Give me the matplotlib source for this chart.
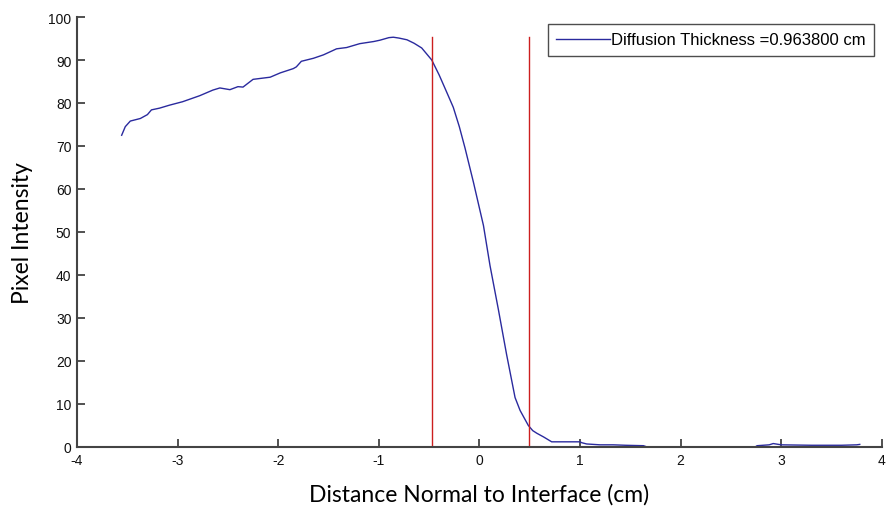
import numpy as np
import matplotlib
matplotlib.use('Agg')
import matplotlib.pyplot as plt

# intensity profile across the interface
dist = [-3.556, -3.52, -3.47, -3.37, -3.30, -3.26, -3.18, -3.08, -2.95, -2.78,
        -2.65, -2.58, -2.48, -2.40, -2.35, -2.25, -2.08, -1.98, -1.85, -1.82,
        -1.77, -1.65, -1.55, -1.42, -1.32, -1.19, -1.05, -0.99, -0.90, -0.856,
        -0.80, -0.72, -0.65, -0.574, -0.474, -0.40, -0.325, -0.26, -0.20, -0.143,
        -0.06, 0.04, 0.105, 0.188, 0.27, 0.354, 0.404, 0.486, 0.53, 0.57,
        0.64, 0.718, 0.85, 1.0, 1.016, 1.066, 1.2, 1.33, 1.45, 1.63,
        1.66, 2.0, 2.5, 2.74, 2.76, 2.88, 2.92, 3.0, 3.3, 3.6,
        3.75, 3.78]
intensity = [72.5, 74.5, 75.8, 76.4, 77.3, 78.4, 78.8, 79.5, 80.3, 81.7,
             83.0, 83.5, 83.1, 83.8, 83.7, 85.5, 86.0, 87.0, 88.0, 88.4,
             89.7, 90.4, 91.2, 92.6, 92.9, 93.8, 94.3, 94.6, 95.2, 95.3,
             95.1, 94.7, 93.9, 92.8, 90.0, 86.5, 82.5, 79.0, 74.5, 69.5,
             61.6, 51.5, 42.2, 32.0, 21.5, 11.5, 8.5, 5.0, 3.8, 3.2,
             2.3, 1.2, 1.2, 1.2, 1.0, 0.7, 0.5, 0.5, 0.4, 0.3,
             0.05, 0.0, 0.0, 0.0, 0.3, 0.5, 0.8, 0.5, 0.4, 0.4,
             0.5, 0.6]

thickness = 0.9638
edges = [-0.475, -0.475 + thickness]
edge_top = 95.3

fig = plt.figure(figsize=(8.89, 5.10), dpi=100)
ax = fig.add_axes([0.0866, 0.1216, 0.9054, 0.8431])

ax.plot(dist, intensity, color='#2a2a9e', linewidth=1.0,
        label='Diffusion Thickness =%f cm' % thickness)
for e in edges:
    ax.plot([e, e], [0, edge_top], color='#cc1f1f', linewidth=1.0)

ax.set_xlim(-4, 4)
ax.set_ylim(0, 100)
ax.set_xticks(np.arange(-4, 5, 1))
ax.set_yticks(np.arange(0, 101, 10))

tick_font = {'family': 'Liberation Sans', 'size': 10}
ax.set_xticklabels([str(v) for v in range(-4, 5)], fontdict=tick_font)
ax.set_yticklabels([str(v) for v in range(0, 101, 10)], fontdict=tick_font)
ax.tick_params(direction='in', length=6, width=1.2, color='#333333',
               labelcolor='#111111', pad=4)

for side in ['top', 'right']:
    ax.spines[side].set_visible(False)
for side in ['left', 'bottom']:
    ax.spines[side].set_color('#444444')
    ax.spines[side].set_linewidth(1.5)

ax.set_xlabel('Distance Normal to Interface (cm)', fontsize=16.5,
              family='Lato', labelpad=12)
ax.set_ylabel('Pixel Intensity', fontsize=16.5, family='Lato', labelpad=11)

leg = ax.legend(loc='upper right', bbox_to_anchor=(0.990, 0.9837),
                prop={'family': 'Liberation Sans', 'size': 12},
                frameon=True, fancybox=False, handlelength=3.25,
                handletextpad=0.05, borderpad=0.5, borderaxespad=0)
leg.get_frame().set_edgecolor('#222222')
leg.get_frame().set_linewidth(1.0)

fig.savefig('out.png', dpi=100)
